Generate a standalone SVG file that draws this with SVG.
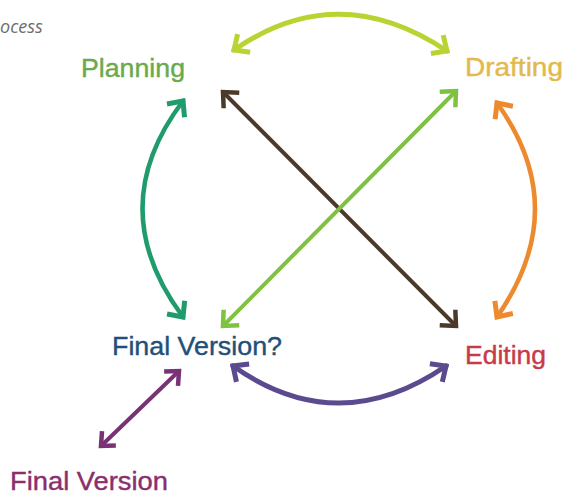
<svg xmlns="http://www.w3.org/2000/svg" width="564" height="495" viewBox="0 0 564 495">
<style>
  .lbl { font-family: "Liberation Sans", Arial, sans-serif; font-size: 26px; stroke-width: 0.4px; }
  .arr { fill: none; stroke-linecap: round; }
  .head { fill: none; stroke-linejoin: miter; stroke-linecap: butt; }
</style>
<defs>
  <marker id="mTop" markerUnits="userSpaceOnUse" markerWidth="30" markerHeight="30" viewBox="-15 -15 30 30" refX="0" refY="0" orient="auto-start-reverse" overflow="visible"><path class="head" d="M-12,-11 L0,0 L-12,11" stroke="#b9d432" stroke-width="5"/></marker>
  <marker id="mTeal" markerUnits="userSpaceOnUse" markerWidth="30" markerHeight="30" viewBox="-15 -15 30 30" refX="0" refY="0" orient="auto-start-reverse" overflow="visible"><path class="head" d="M-12,-11 L0,0 L-12,11" stroke="#1f9b6c" stroke-width="5"/></marker>
  <marker id="mOrange" markerUnits="userSpaceOnUse" markerWidth="30" markerHeight="30" viewBox="-15 -15 30 30" refX="0" refY="0" orient="auto-start-reverse" overflow="visible"><path class="head" d="M-12,-11 L0,0 L-12,11" stroke="#ee8a2e" stroke-width="5"/></marker>
  <marker id="mPurple" markerUnits="userSpaceOnUse" markerWidth="30" markerHeight="30" viewBox="-15 -15 30 30" refX="0" refY="0" orient="auto-start-reverse" overflow="visible"><path class="head" d="M-12,-11 L0,0 L-12,11" stroke="#5c4a8f" stroke-width="5"/></marker>
  <marker id="mBrown" markerUnits="userSpaceOnUse" markerWidth="30" markerHeight="30" viewBox="-15 -15 30 30" refX="0" refY="0" orient="auto-start-reverse" overflow="visible"><path class="head" d="M-12,-11 L0,0 L-12,11" stroke="#4b3a2a" stroke-width="4.5"/></marker>
  <marker id="mLime" markerUnits="userSpaceOnUse" markerWidth="30" markerHeight="30" viewBox="-15 -15 30 30" refX="0" refY="0" orient="auto-start-reverse" overflow="visible"><path class="head" d="M-12,-11 L0,0 L-12,11" stroke="#7fc241" stroke-width="4.5"/></marker>
  <marker id="mPlum" markerUnits="userSpaceOnUse" markerWidth="30" markerHeight="30" viewBox="-15 -15 30 30" refX="0" refY="0" orient="auto-start-reverse" overflow="visible"><path class="head" d="M-11,-10 L0,0 L-11,10" stroke="#7a3276" stroke-width="4.5"/></marker>
</defs>
<rect width="564" height="495" fill="#ffffff"/>
<text x="0" y="33" font-family="'Open Sans', 'Liberation Sans', sans-serif" font-size="18" font-style="italic" fill="#6e6e6e">ocess</text>
<g id="connectors">
  <path class="arr" d="M234,50 Q338,-22 447,51" stroke="#b9d432" stroke-width="5" marker-start="url(#mTop)" marker-end="url(#mTop)"/>
  <path class="arr" d="M183,101 Q102,208 183,317" stroke="#1f9b6c" stroke-width="4.5" marker-start="url(#mTeal)" marker-end="url(#mTeal)"/>
  <path class="arr" d="M497,103 Q573,208 497,317" stroke="#ee8a2e" stroke-width="4.5" marker-start="url(#mOrange)" marker-end="url(#mOrange)"/>
  <path class="arr" d="M233,366 Q338,440 446,366" stroke="#5c4a8f" stroke-width="5" marker-start="url(#mPurple)" marker-end="url(#mPurple)"/>
  <path class="arr" d="M223,92 L456,326" stroke="#4b3a2a" stroke-width="4" marker-start="url(#mBrown)" marker-end="url(#mBrown)"/>
  <path class="arr" d="M456,91 L223,326" stroke="#7fc241" stroke-width="4" marker-start="url(#mLime)" marker-end="url(#mLime)"/>
  <path class="arr" d="M179,371 L101,446" stroke="#7a3276" stroke-width="4" marker-start="url(#mPlum)" marker-end="url(#mPlum)"/>
</g>
<g id="planning"><text class="lbl" x="81" y="77" fill="#6aaa4c" stroke="#6aaa4c" textLength="104" lengthAdjust="spacingAndGlyphs">Planning</text></g>
<g id="drafting"><text class="lbl" x="465" y="76" fill="#e3b94c" stroke="#e3b94c" textLength="98" lengthAdjust="spacingAndGlyphs">Drafting</text></g>
<g id="final-version-q"><text class="lbl" x="112" y="355" fill="#1f4f7a" stroke="#1f4f7a" textLength="170" lengthAdjust="spacingAndGlyphs">Final Version?</text></g>
<g id="editing"><text class="lbl" x="465" y="364" fill="#c83a4a" stroke="#c83a4a" textLength="81" lengthAdjust="spacingAndGlyphs">Editing</text></g>
<g id="final-version"><text class="lbl" x="10" y="490" fill="#8a2f6e" stroke="#8a2f6e" textLength="158" lengthAdjust="spacingAndGlyphs">Final Version</text></g>
</svg>
